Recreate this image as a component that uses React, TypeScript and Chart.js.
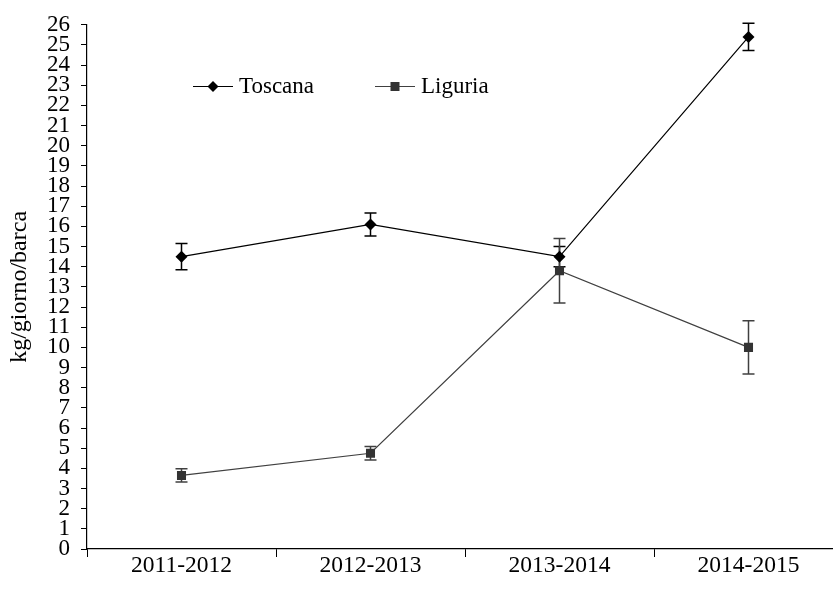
import React, { useEffect, useRef } from 'react';
import { Chart, registerables } from 'chart.js';

Chart.register(...registerables);

const categories = ['2011-2012', '2012-2013', '2013-2014', '2014-2015'];
const toscana = [14.5, 16.1, 14.5, 25.4];
const toscanaErr = [0.65, 0.57, 0.5, 0.68];
const liguria = [3.65, 4.75, 13.8, 10.0];
const liguriaErr = [0.33, 0.33, 1.6, 1.32];
const yMin = 0;
const yMax = 26;
const yStep = 1;
const yTitle = 'kg/giorno/barca';

const FONT = '"Liberation Serif", "Times New Roman", serif';

const errorBarPlugin = {
  id: 'errorBars',
  beforeDatasetsDraw(chart: any) {
    const { ctx } = chart;
    const y = chart.scales.y;
    chart.data.datasets.forEach((ds: any, di: number) => {
      const meta = chart.getDatasetMeta(di);
      const errs: number[] = ds.errors || [];
      ctx.save();
      ctx.strokeStyle = ds.errorColor || '#000';
      ctx.lineWidth = 1.5;
      meta.data.forEach((pt: any, i: number) => {
        const v = ds.data[i];
        const e = errs[i];
        if (e == null) return;
        const x = pt.x;
        const yt = y.getPixelForValue(v + e);
        const yb = y.getPixelForValue(v - e);
        ctx.beginPath();
        ctx.moveTo(x, yt);
        ctx.lineTo(x, yb);
        ctx.moveTo(x - 6, yt);
        ctx.lineTo(x + 6, yt);
        ctx.moveTo(x - 6, yb);
        ctx.lineTo(x + 6, yb);
        ctx.stroke();
      });
      ctx.restore();
    });
  },
};

const lineLegendPlugin = {
  id: 'lineLegend',
  afterDraw(chart: any) {
    const { ctx, chartArea } = chart;
    const startXs = [chartArea.left + 106, chartArea.left + 288];
    const ly = 86.5;
    chart.data.datasets.forEach((ds: any, di: number) => {
      const x0 = startXs[di];
      ctx.save();
      ctx.strokeStyle = ds.borderColor;
      ctx.lineWidth = 1.2;
      ctx.beginPath();
      ctx.moveTo(x0, ly);
      ctx.lineTo(x0 + 40, ly);
      ctx.stroke();
      ctx.fillStyle = ds.pointBackgroundColor;
      ctx.beginPath();
      if (ds.pointStyle === 'rectRot') {
        const r = 5.5;
        const cx = x0 + 20;
        ctx.moveTo(cx, ly - r);
        ctx.lineTo(cx + r, ly);
        ctx.lineTo(cx, ly + r);
        ctx.lineTo(cx - r, ly);
        ctx.closePath();
      } else {
        ctx.rect(x0 + 20 - 4.5, ly - 4.5, 9, 9);
      }
      ctx.fill();
      ctx.fillStyle = '#000';
      ctx.font = `23px ${FONT}`;
      ctx.textAlign = 'left';
      ctx.textBaseline = 'middle';
      ctx.fillText(ds.label, x0 + 46, ly);
      ctx.restore();
    });
  },
};

export default function App() {
  const ref = useRef<HTMLCanvasElement | null>(null);

  useEffect(() => {
    if (!ref.current) return;
    const chart = new Chart(ref.current, {
      type: 'line',
      data: {
        labels: categories,
        datasets: [
          {
            label: 'Toscana',
            data: toscana,
            errors: toscanaErr,
            errorColor: '#000',
            borderColor: '#000',
            borderWidth: 1.2,
            pointStyle: 'rectRot',
            pointRadius: 6,
            pointBackgroundColor: '#000',
            pointBorderColor: '#000',
            pointBorderWidth: 0,
            tension: 0,
          } as any,
          {
            label: 'Liguria',
            data: liguria,
            errors: liguriaErr,
            errorColor: '#404040',
            borderColor: '#404040',
            borderWidth: 1.2,
            pointStyle: 'rect',
            pointRadius: 6.4,
            pointBackgroundColor: '#333',
            pointBorderColor: '#333',
            pointBorderWidth: 0,
            tension: 0,
          } as any,
        ],
      },
      options: {
        responsive: false,
        animation: false,
        layout: { padding: { left: 0, right: 17, top: 23, bottom: 0 } },
        plugins: {
          legend: { display: false },
          tooltip: { enabled: false },
        },
        scales: {
          x: {
            type: 'category',
            offset: true,
            grid: {
              offset: true,
              drawOnChartArea: false,
              drawTicks: true,
              tickLength: 8,
              color: '#000',
              lineWidth: 1,
            },
            border: { display: true, color: '#000', width: 1.2 },
            ticks: {
              color: '#000',
              font: { family: FONT, size: 23.5 },
              padding: -5,
              maxRotation: 0,
            },
            afterFit(scale: any) {
              scale.height = 45;
            },
          },
          y: {
            min: yMin,
            max: yMax,
            grid: {
              drawOnChartArea: false,
              drawTicks: true,
              tickLength: 6,
              color: '#000',
              lineWidth: 1,
            },
            border: { display: true, color: '#000', width: 1.2 },
            ticks: {
              stepSize: yStep,
              autoSkip: false,
              color: '#000',
              font: { family: FONT, size: 23 },
              padding: 11,
            },
            title: {
              display: true,
              text: yTitle,
              color: '#000',
              font: { family: FONT, size: 24 },
              padding: { top: 5, bottom: 0 },
            },
            afterFit(scale: any) {
              scale.width = 87;
            },
          },
        },
      },
      plugins: [errorBarPlugin, lineLegendPlugin],
    } as any);
    return () => chart.destroy();
  }, []);

  return (
    <div
      style={{
        position: 'fixed',
        left: 0,
        top: 0,
        width: 833,
        height: 594,
        overflow: 'hidden',
        background: '#fff',
      }}
    >
      <canvas ref={ref} width={860} height={594} style={{ display: 'block' }} />
    </div>
  );
}
